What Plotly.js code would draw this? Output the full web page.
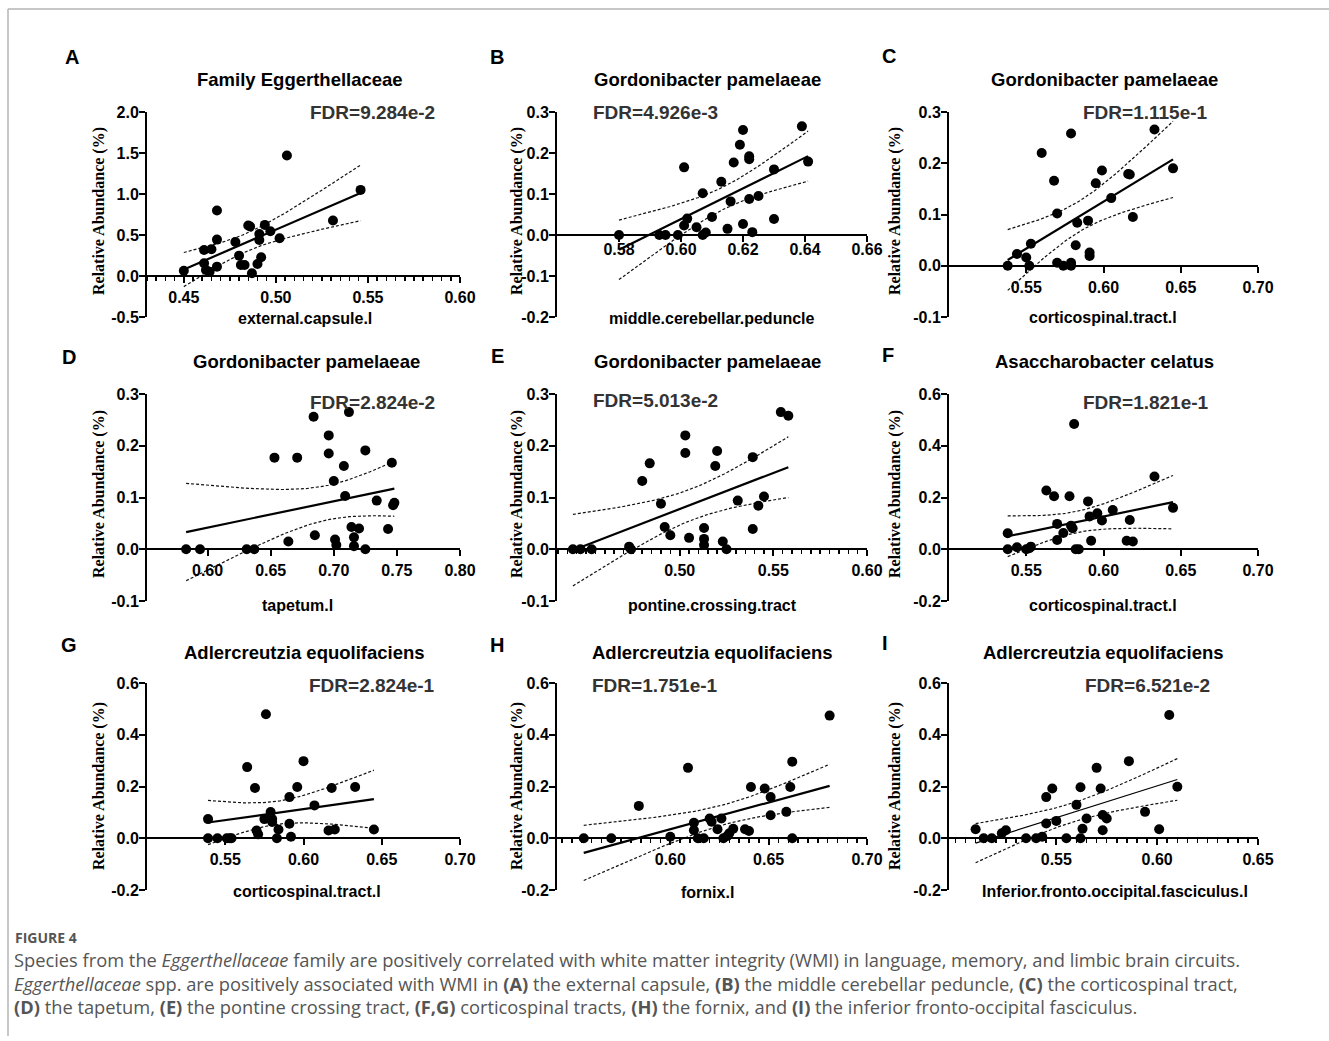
<!DOCTYPE html>
<html><head><meta charset="utf-8">
<script src="https://cdn.plot.ly/plotly-3.0.1.min.js"></script>
<style>html,body{margin:0;padding:0;background:#fff;}#chart{width:1329px;height:1041px;}</style>
</head><body><div id="chart"></div>
<script>
// ---------- text ----------
const panelLetters = ['A','B','C','D','E','F','G','H','I'];
const panelTitles = ['Family Eggerthellaceae','Gordonibacter pamelaeae','Gordonibacter pamelaeae',
  'Gordonibacter pamelaeae','Gordonibacter pamelaeae','Asaccharobacter celatus',
  'Adlercreutzia equolifaciens','Adlercreutzia equolifaciens','Adlercreutzia equolifaciens'];
const fdrLabels = ['FDR=9.284e-2','FDR=4.926e-3','FDR=1.115e-1','FDR=2.824e-2','FDR=5.013e-2',
  'FDR=1.821e-1','FDR=2.824e-1','FDR=1.751e-1','FDR=6.521e-2'];
const xTitles = ['external.capsule.l','middle.cerebellar.peduncle','corticospinal.tract.l','tapetum.l',
  'pontine.crossing.tract','corticospinal.tract.l','corticospinal.tract.l','fornix.l',
  'Inferior.fronto.occipital.fasciculus.l'];
const yTitle = 'Relative Abundance (%)';
const captionHead = 'FIGURE 4';
const captionLines = [
  'Species from the <i>Eggerthellaceae</i> family are positively correlated with white matter integrity (WMI) in language, memory, and limbic brain circuits.',
  '<i>Eggerthellaceae</i> spp. are positively associated with WMI in <b>(A)</b> the external capsule, <b>(B)</b> the middle cerebellar peduncle, <b>(C)</b> the corticospinal tract,',
  '<b>(D)</b> the tapetum, <b>(E)</b> the pontine crossing tract, <b>(F,G)</b> corticospinal tracts, <b>(H)</b> the fornix, and <b>(I)</b> the inferior fronto-occipital fasciculus.'
];

// ---------- data ----------
const aX = [0.450,0.461,0.465,0.461,0.462,0.464,0.468,0.468,0.468,0.478,0.480,0.481,0.483,0.485,0.486,0.487,0.490,0.492,0.491,0.491,0.494,0.497,0.502,0.506,0.531,0.546];
const aY = [0.065,0.318,0.326,0.155,0.073,0.053,0.798,0.444,0.114,0.415,0.248,0.134,0.134,0.615,0.603,0.033,0.147,0.228,0.513,0.440,0.623,0.546,0.460,1.470,0.676,1.050];

const bX = [0.580,0.593,0.595,0.599,0.601,0.602,0.601,0.605,0.607,0.607,0.608,0.610,0.613,0.615,0.616,0.617,0.619,0.620,0.620,0.622,0.622,0.622,0.623,0.625,0.630,0.630,0.639,0.641];
const bY = [0,0,0,0,0.023,0.040,0.165,0.019,0.102,0,0.006,0.044,0.130,0.015,0.082,0.177,0.220,0.256,0.027,0.192,0.185,0.088,0.007,0.095,0.160,0.039,0.265,0.179];

const cX = [0.538,0.544,0.550,0.552,0.553,0.560,0.568,0.570,0.570,0.574,0.579,0.579,0.579,0.582,0.583,0.590,0.591,0.591,0.595,0.599,0.605,0.616,0.617,0.619,0.633,0.645];
const cY = [0,0.023,0.016,0,0.043,0.220,0.166,0.102,0.006,0,0.258,0.006,0,0.040,0.084,0.088,0.026,0.019,0.161,0.186,0.132,0.179,0.178,0.095,0.266,0.190];

const dX = [0.583,0.594,0.631,0.637,0.653,0.664,0.671,0.684,0.685,0.696,0.696,0.700,0.701,0.702,0.708,0.709,0.712,0.714,0.716,0.716,0.720,0.725,0.725,0.734,0.743,0.746,0.747,0.748];
const dY = [0,0,0,0,0.177,0.015,0.177,0.256,0.027,0.220,0.185,0.132,0.019,0.008,0.161,0.103,0.265,0.043,0.023,0.006,0.040,0.191,0,0.094,0.039,0.167,0.085,0.090];

const eX = [0.443,0.447,0.453,0.473,0.474,0.480,0.484,0.490,0.492,0.495,0.503,0.503,0.505,0.513,0.513,0.513,0.520,0.519,0.523,0.525,0.531,0.539,0.539,0.542,0.545,0.554,0.558];
const eY = [0,0,0,0.005,0,0.132,0.166,0.088,0.043,0.027,0.220,0.186,0.022,0.020,0.008,0.041,0.190,0.161,0.015,0,0.094,0.039,0.178,0.084,0.102,0.265,0.258];

const fX = [0.538,0.538,0.544,0.550,0.552,0.553,0.563,0.568,0.570,0.570,0.574,0.578,0.579,0.580,0.581,0.582,0.584,0.590,0.591,0.592,0.596,0.599,0.606,0.617,0.615,0.619,0.633,0.645];
const fY = [0.062,0,0.008,0,0.004,0.010,0.227,0.205,0.098,0.036,0.063,0.205,0.091,0.081,0.484,0,0,0.185,0.127,0.033,0.139,0.111,0.152,0.113,0.033,0.030,0.281,0.160];

const gX = [0.539,0.539,0.545,0.551,0.553,0.554,0.564,0.569,0.570,0.571,0.575,0.576,0.579,0.580,0.580,0.583,0.584,0.591,0.591,0.592,0.596,0.600,0.607,0.616,0.618,0.620,0.633,0.645];
const gY = [0.074,0,0,0,0,0,0.275,0.194,0.030,0.015,0.074,0.479,0.101,0.074,0.063,0,0.034,0.056,0.159,0.006,0.198,0.298,0.127,0.030,0.194,0.034,0.198,0.034];

const hX = [0.556,0.570,0.584,0.600,0.609,0.612,0.612,0.614,0.617,0.620,0.621,0.624,0.626,0.627,0.629,0.630,0.632,0.638,0.640,0.641,0.648,0.651,0.651,0.659,0.661,0.662,0.662,0.681];
const hY = [0,0,0.125,0.006,0.272,0.060,0.031,0,0,0.076,0.064,0.035,0.076,0,0.009,0.019,0.037,0.035,0.028,0.198,0.192,0.159,0.089,0.102,0.198,0.296,0,0.474];

const iX = [0.510,0.514,0.518,0.523,0.525,0.535,0.540,0.543,0.545,0.545,0.548,0.550,0.555,0.560,0.562,0.562,0.563,0.565,0.570,0.572,0.573,0.573,0.575,0.586,0.594,0.601,0.606,0.610];
const iY = [0.035,0,0,0.019,0.031,0,0,0.006,0.159,0.057,0.192,0.067,0,0.129,0,0.197,0.037,0.076,0.272,0.192,0.090,0.031,0.076,0.298,0.102,0.035,0.476,0.199];

// ---------- ticks ----------
const xTicksA = [0.45,0.50,0.55,0.60];
const xTicksB = [0.58,0.60,0.62,0.64,0.66];
const xTicksC = [0.55,0.60,0.65,0.70];
const xTicksD = [0.60,0.65,0.70,0.75,0.80];
const xTicksE = [0.50,0.55,0.60];
const xTicksH = [0.60,0.65,0.70];
const xTicksI = [0.55,0.60,0.65];
const yTicksA = [-0.5,0,0.5,1.0,1.5,2.0];
const yTicksB = [-0.2,-0.1,0,0.1,0.2,0.3];
const yTicksCDE = [-0.1,0,0.1,0.2,0.3];
const yTicksFGHI = [-0.2,0,0.2,0.4,0.6];

// ---------- layout config ----------
const W = 1329, H = 1041;
const px = v => v / W;
const py = v => 1 - v / H;
const cols = [[147,460],[557,867],[949,1258]];
const rows = [[112,317],[394,601],[683,890]];

const panels = [
  {x:aX,y:aY,xr:[0.43,0.60],yr:[-0.5,2.0],xt:xTicksA,yt:yTicksA,minor:true,xs:1},
  {x:bX,y:bY,xr:[0.56,0.66],yr:[-0.2,0.3],xt:xTicksB,yt:yTicksB,minor:false,xs:-6},
  {x:cX,y:cY,xr:[0.50,0.70],yr:[-0.1,0.3],xt:xTicksC,yt:yTicksCDE,minor:false,xs:1},
  {x:dX,y:dY,xr:[0.552,0.80],yr:[-0.1,0.3],xt:xTicksD,yt:yTicksCDE,minor:false,xs:1},
  {x:eX,y:eY,xr:[0.4345,0.60],yr:[-0.1,0.3],xt:xTicksE,yt:yTicksCDE,minor:true,xs:1},
  {x:fX,y:fY,xr:[0.50,0.70],yr:[-0.2,0.6],xt:xTicksC,yt:yTicksFGHI,minor:false,xs:1},
  {x:gX,y:gY,xr:[0.50,0.70],yr:[-0.2,0.6],xt:xTicksC,yt:yTicksFGHI,minor:false,xs:1},
  {x:hX,y:hY,xr:[0.5424,0.70],yr:[-0.2,0.6],xt:xTicksH,yt:yTicksFGHI,minor:true,xs:1},
  {x:iX,y:iY,xr:[0.4968,0.65],yr:[-0.2,0.6],xt:xTicksI,yt:yTicksFGHI,minor:true,thin:true,xs:1}
];

const titlePos = [[300,79],[708,79],[1104,79],[306,361],[708,361],[1104,362],[304,652],[712,652],[1103,652]];
const letterPos = [[72,57],[497,57],[889,56],[69,357],[497,356],[888,355],[69,645],[497,645],[885,643]];
const fdrPos = [[372,113],[655,112],[1145,113],[372,402],[655,400],[1146,402],[372,685],[655,685],[1147,685]];
const xTitlePos = [[305,319],[712,318],[1103,317],[297,605],[712,605],[1103,605],[307,891],[707,892],[1115,891]];
const yTitleX = [99,517,895];
const yTitleY = [211,494,786];

// regression with 95% CI
function regress(xs, ys) {
  const n = xs.length;
  const mx = xs.reduce((s,v)=>s+v,0)/n, my = ys.reduce((s,v)=>s+v,0)/n;
  let sxx=0, sxy=0;
  for (let i=0;i<n;i++){ sxx+=(xs[i]-mx)**2; sxy+=(xs[i]-mx)*(ys[i]-my); }
  const b = sxy/sxx, a = my - b*mx;
  let sse=0; for (let i=0;i<n;i++){ sse+=(ys[i]-a-b*xs[i])**2; }
  const s = Math.sqrt(sse/(n-2));
  const t = 1.96 + 2.5/(n-2);
  const lo = Math.min(...xs), hi = Math.max(...xs);
  const gx=[], gy=[], up=[], dn=[];
  for (let k=0;k<=60;k++){
    const x = lo + (hi-lo)*k/60;
    const yh = a + b*x;
    const se = s*Math.sqrt(1/n + (x-mx)**2/sxx);
    gx.push(x); gy.push(yh); up.push(yh + t*se); dn.push(yh - t*se);
  }
  return {gx, gy, up, dn};
}

const sans = 'Liberation Sans, Arial, Helvetica, sans-serif';
const serif = 'Liberation Serif, Times New Roman, serif';
const traces = [];
const layout = {
  width: W, height: H, margin:{l:0,r:0,t:0,b:0},
  paper_bgcolor:'#fff', plot_bgcolor:'rgba(0,0,0,0)',
  showlegend:false, annotations:[],
  shapes:[
    {type:'line', xref:'paper', yref:'paper', x0:px(8), x1:1, y0:py(9), y1:py(9), line:{color:'#b5b5b5', width:1.5}},
    {type:'line', xref:'paper', yref:'paper', x0:px(8), x1:px(8), y0:py(9), y1:py(1036), line:{color:'#b5b5b5', width:1.5}}
  ]
};

panels.forEach((p, i) => {
  const k = i+1, xa = 'x'+k, ya = 'y'+k;
  const col = cols[i%3], row = rows[Math.floor(i/3)];
  const yd = [py(row[1]), py(row[0])];
  const xd = [px(col[0]), px(col[1])];
  const pos = yd[0] + (0 - p.yr[0])/(p.yr[1]-p.yr[0])*(yd[1]-yd[0]);
  const r = regress(p.x, p.y);
  const band = {dash:'3px,2px', width:1.2, color:'#111'};
  traces.push({x:r.gx, y:r.up, mode:'lines', line:band, xaxis:xa, yaxis:ya, hoverinfo:'skip'});
  traces.push({x:r.gx, y:r.dn, mode:'lines', line:band, xaxis:xa, yaxis:ya, hoverinfo:'skip'});
  traces.push({x:r.gx, y:r.gy, mode:'lines', line:{color:'#000', width:p.thin?1.2:2.2}, xaxis:xa, yaxis:ya});
  traces.push({x:p.x, y:p.y, mode:'markers', marker:{size:10, color:'#000'}, xaxis:xa, yaxis:ya, cliponaxis:false});

  const tickfont = {family:sans, size:16, color:'#000', weight:'bold'};
  const xaxis = {
    domain:xd, range:p.xr, anchor:'free', position:pos,
    showline:true, linecolor:'#000', linewidth:2,
    ticks:'outside', ticklen:6, tickwidth:2, tickcolor:'#000',
    tickmode:'array', tickvals:p.xt, ticktext:p.xt.map(v=>v.toFixed(2)),
    tickfont, ticklabelstandoff:p.xs, showgrid:false, zeroline:false
  };
  if (p.minor) xaxis.minor = {tickmode:'linear', tick0:0, dtick:0.005, ticks:'outside', ticklen:4, tickwidth:1.5, tickcolor:'#000', showgrid:false};
  layout['xaxis'+(k===1?'':k)] = xaxis;
  layout['yaxis'+(k===1?'':k)] = {
    domain:yd, range:p.yr, anchor:xa,
    showline:true, linecolor:'#000', linewidth:2,
    ticks:'outside', ticklen:6, tickwidth:2, tickcolor:'#000',
    tickmode:'array', tickvals:p.yt, ticktext:p.yt.map(v=>v.toFixed(1)),
    tickfont, ticklabelstandoff:-3, showgrid:false, zeroline:false
  };

  const A = layout.annotations;
  A.push({xref:'paper', yref:'paper', x:px(letterPos[i][0]), y:py(letterPos[i][1]), text:'<b>'+panelLetters[i]+'</b>', showarrow:false, xanchor:'center', yanchor:'middle', font:{family:sans, size:20, color:'#000'}});
  A.push({xref:'paper', yref:'paper', x:px(titlePos[i][0]), y:py(titlePos[i][1]), text:'<b>'+panelTitles[i]+'</b>', showarrow:false, xanchor:'center', yanchor:'middle', font:{family:sans, size:18.5, color:'#000'}});
  A.push({xref:'paper', yref:'paper', x:px(fdrPos[i][0]), y:py(fdrPos[i][1]), text:'<b>'+fdrLabels[i]+'</b>', showarrow:false, xanchor:'center', yanchor:'middle', font:{family:sans, size:19, color:'#333'}});
  A.push({xref:'paper', yref:'paper', x:px(xTitlePos[i][0]), y:py(xTitlePos[i][1]), text:'<b>'+xTitles[i]+'</b>', showarrow:false, xanchor:'center', yanchor:'middle', font:{family:sans, size:16, color:'#000'}});
  A.push({xref:'paper', yref:'paper', x:px(yTitleX[i%3]), y:py(yTitleY[Math.floor(i/3)]), text:'<b>'+yTitle+'</b>', textangle:-90, showarrow:false, xanchor:'center', yanchor:'middle', font:{family:serif, size:16, color:'#000'}});
});

const capFamily = 'Open Sans, Noto Sans, sans-serif';
const capFont = {family:capFamily, size:18.3, color:'#555'};
layout.annotations.push({xref:'paper', yref:'paper', x:px(13), y:py(937), text:'<b>'+captionHead+'</b>', showarrow:false, xanchor:'left', yanchor:'middle', font:{family:capFamily, size:14, color:'#555'}});
captionLines.forEach((t, j) => {
  layout.annotations.push({xref:'paper', yref:'paper', x:px(12), y:py(959 + 24*j), text:t, showarrow:false, xanchor:'left', yanchor:'middle', align:'left', font:capFont});
});

Plotly.newPlot('chart', traces, layout, {staticPlot:true, displayModeBar:false});
</script>
</body></html>
